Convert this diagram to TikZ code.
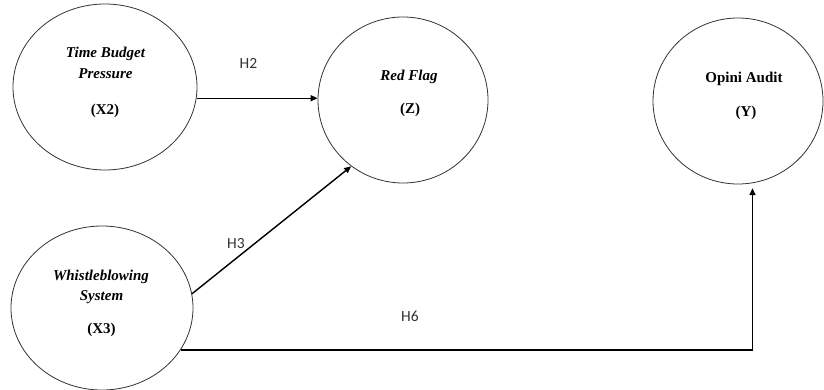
\documentclass[tikz,border=0pt]{standalone}
\usepackage{fontspec}
\setmainfont{Liberation Serif}
\newfontfamily\hfont{Carlito}
\usetikzlibrary{shapes.geometric,arrows.meta}
\tikzset{
  construct/.style={draw=black!80, line width=0.8pt, ellipse, inner sep=0pt},
  lbl/.style={anchor=base, font=\fontsize{15}{17}\selectfont\bfseries\itshape, inner sep=0pt},
  code/.style={anchor=base, font=\fontsize{15}{17}\selectfont\bfseries, inner sep=0pt},
  hyp/.style={anchor=base, font=\hfont\fontsize{15.5}{17}\selectfont, text=black!80, inner sep=0pt},
  arr/.style={line width=1.4pt, -{Triangle[length=7pt,width=6pt]}}
}
\begin{document}
\begin{tikzpicture}[x=1pt,y=-1pt]
\useasboundingbox[fill=white] (0,0) rectangle (824,390);
% constructs
\node[construct, minimum width=184pt, minimum height=166pt] (x2) at (105,87) {};
\node[construct, minimum width=170pt, minimum height=166pt] (z) at (403,100) {};
\node[construct, minimum width=170pt, minimum height=166pt] (y) at (738,101) {};
\node[construct, minimum width=182pt, minimum height=164pt] (x3) at (102,308) {};
% texts
\node[lbl] (t1) at (105.5,58) {Time Budget};
\node[lbl] (t2) at (105.5,79) {Pressure};
\node[code] (t3) at (105,115) {(X2)};
\node[lbl] (t4) at (409,81) {Red Flag};
\node[code] (t5) at (410,114) {(Z)};
\node[code] (t6) at (744,83) {Opini Audit};
\node[code] (t7) at (746,117) {(Y)};
\node[lbl] (t8) at (101,280) {Whistleblowing};
\node[lbl] (t9) at (101.5,300) {System};
\node[code] (t10) at (101.5,333) {(X3)};
% hypotheses
\node[hyp] (h2) at (248.5,69) {H2};
\node[hyp] (h3) at (236,248) {H3};
\node[hyp] (h6) at (410,321) {H6};
% arrows
\draw[arr] (x2.-7) -- (x2.-7 -| z.west);
\draw[arr] (x3.9) -- (z.232);
\draw[arr, shorten >=5pt] (x3.-28) -- (x3.-28 -| y.-80) -- (y.-80);
\end{tikzpicture}
\end{document}
